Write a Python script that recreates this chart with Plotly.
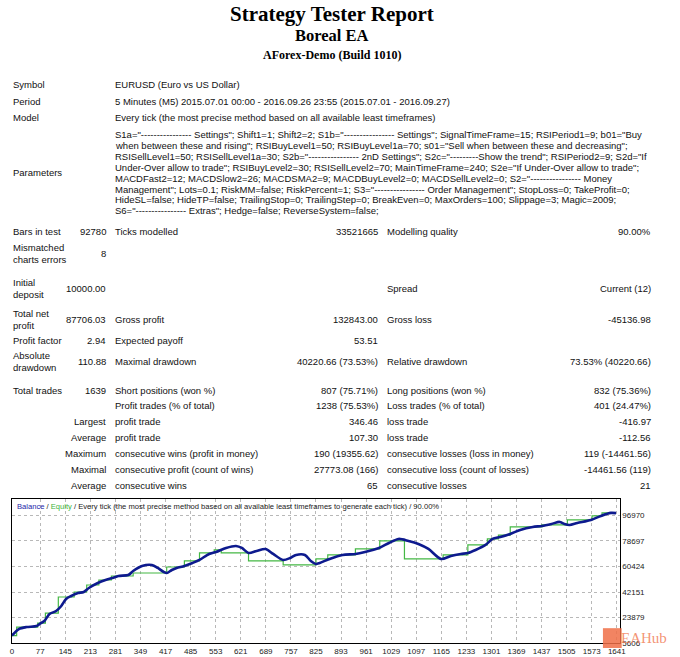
import plotly.graph_objects as go

W, H = 680, 657

# ---- header info ----
title_lines = ["Strategy Tester Report", "Boreal EA", "AForex-Demo (Build 1010)"]
info_labels = ["Symbol", "Period", "Model", "Parameters"]
info_values = [
    "EURUSD (Euro vs US Dollar)",
    "5 Minutes (M5) 2015.07.01 00:00 - 2016.09.26 23:55 (2015.07.01 - 2016.09.27)",
    "Every tick (the most precise method based on all available least timeframes)",
]
param_lines = [
    'S1a="---------------- Settings"; Shift1=1; Shift2=2; S1b="---------------- Settings"; SignalTimeFrame=15; RSIPeriod1=9; b01="Buy',
    'when between these and rising"; RSIBuyLevel1=50; RSIBuyLevel1a=70; s01="Sell when between these and decreasing";',
    'RSISellLevel1=50; RSISellLevel1a=30; S2b="---------------- 2nD Settings"; S2c="---------Show the trend"; RSIPeriod2=9; S2d="If',
    'Under-Over allow to trade"; RSIBuyLevel2=30; RSISellLevel2=70; MainTimeFrame=240; S2e="If Under-Over allow to trade";',
    'MACDFast2=12; MACDSlow2=26; MACDSMA2=9; MACDBuyLevel2=0; MACDSellLevel2=0; S2="---------------- Money',
    'Management"; Lots=0.1; RiskMM=false; RiskPercent=1; S3="---------------- Order Management"; StopLoss=0; TakeProfit=0;',
    'HideSL=false; HideTP=false; TrailingStop=0; TrailingStep=0; BreakEven=0; MaxOrders=100; Slippage=3; Magic=2009;',
    'S6="---------------- Extras"; Hedge=false; ReverseSystem=false;',
]

# ---- results table (columns) ----
c1 = ["Bars in test", "Mismatched<br>charts errors", "Initial<br>deposit", "Total net<br>profit", "Profit factor",
      "Absolute<br>drawdown", "Total trades", "", "Largest", "Average", "Maximum", "Maximal", "Average"]
c2 = ["92780", "8", "10000.00", "87706.03", "2.94", "110.88", "1639", "", "", "", "", "", ""]
c3 = ["Ticks modelled", "", "", "Gross profit", "Expected payoff", "Maximal drawdown", "Short positions (won %)",
      "Profit trades (% of total)", "profit trade", "profit trade", "consecutive wins (profit in money)",
      "consecutive profit (count of wins)", "consecutive wins"]
c4 = ["33521665", "", "", "132843.00", "53.51", "40220.66 (73.53%)", "807 (75.71%)", "1238 (75.53%)",
      "346.46", "107.30", "190 (19355.62)", "27773.08 (166)", "65"]
c5 = ["Modelling quality", "", "Spread", "Gross loss", "", "Relative drawdown", "Long positions (won %)",
      "Loss trades (% of total)", "loss trade", "loss trade", "consecutive losses (loss in money)",
      "consecutive loss (count of losses)", "consecutive losses"]
c6 = ["90.00%", "", "Current (12)", "-45136.98", "", "73.53% (40220.66)", "832 (75.36%)", "401 (24.47%)",
      "-416.97", "-112.56", "119 (-14461.56)", "-14461.56 (119)", "21"]

# ---- balance / equity curves (trade number vs money) ----
balance_x = [0, 19, 40, 67, 75, 88, 102, 120, 134, 147, 161, 179, 195, 209, 233, 254, 273, 289, 316, 329,
             353, 380, 396, 412, 420, 434, 447, 468, 490, 509, 535, 554, 581, 608, 624, 642, 664, 688, 709,
             736, 755, 771, 795, 811, 825, 835, 862, 897, 932, 958, 996, 1023, 1049, 1076, 1103, 1130, 1164,
             1191, 1218, 1237, 1258, 1285, 1304, 1325, 1352, 1379, 1413, 1438, 1464, 1486, 1499, 1513, 1534,
             1571, 1598, 1625, 1639]
balance_y = [11000, 15638, 17072, 17788, 19221, 21371, 26387, 28537, 32120, 37136, 39286, 41436, 42153,
             45019, 48602, 50752, 52185, 53618, 54335, 57201, 60784, 61501, 59351, 56485, 55768, 57918,
             59351, 60784, 62934, 65084, 69383, 70817, 73683, 75116, 73683, 70100, 71533, 72966, 69383,
             65084, 66517, 68667, 68667, 64367, 62217, 62934, 65800, 68667, 69383, 70817, 73683, 77266,
             80132, 78699, 76549, 72966, 65800, 67950, 69383, 70100, 72250, 75833, 80132, 81566, 83716,
             86582, 88732, 89449, 90882, 92315, 90882, 90165, 91598, 93748, 96614, 98764, 98600]

equity_x = [0, 13, 70, 91, 126, 169, 203, 236, 270, 329, 420, 468, 509, 549, 568, 642, 736, 825, 857, 932,
            998, 1065, 1170, 1237, 1290, 1320, 1352, 1438, 1507, 1574, 1601, 1639]
equity_y = [11000, 17072, 19938, 27104, 38570, 42153, 47169, 50752, 53618, 55768, 60068, 64367, 70100,
            72250, 70100, 64367, 61501, 65800, 68667, 72966, 78699, 65800, 68667, 75833, 80132, 82800,
            88732, 90165, 93748, 96614, 98764, 98764]

x_ticks = [0, 77, 145, 213, 281, 349, 417, 485, 553, 621, 689, 757, 825, 893, 961, 1029, 1097, 1165,
           1233, 1301, 1369, 1437, 1505, 1573, 1641]
y_ticks = [5606, 23879, 42151, 60424, 78697, 96970]

BODY = "Liberation Sans"
SERIF = "Liberation Serif"


def px(x):
    return x / W


def py(y):
    return 1 - y / H


fig = go.Figure()

fig.add_trace(go.Scatter(x=equity_x, y=equity_y, mode="lines", line=dict(color="#44b844", width=1.2, shape="hv"),
                         name="Equity", hoverinfo="skip"))
fig.add_trace(go.Scatter(x=balance_x, y=balance_y, mode="lines",
                         line=dict(color="#0d1a8e", width=2.6, shape="spline", smoothing=0.8),
                         name="Balance", hoverinfo="skip"))

ann = []


def text(x, y, s, size=9.5, anchor="left", family=BODY, bold=False, color="#111111"):
    if bold:
        s = "<b>" + s + "</b>"
    ann.append(dict(x=px(x), y=py(y), xref="paper", yref="paper", text=s, showarrow=False,
                    xanchor=anchor, yanchor="middle", align=anchor if anchor != "center" else "center",
                    font=dict(family=family, size=size, color=color)))


# titles
text(334, 14, title_lines[0], size=21, anchor="center", family=SERIF, bold=True, color="#000")
text(334, 36, title_lines[1], size=16.5, anchor="center", family=SERIF, bold=True, color="#000")
text(334, 55, title_lines[2], size=12, anchor="center", family=SERIF, bold=True, color="#000")

# info block
for lab, yy in zip(info_labels, [85, 102, 118, 174]):
    text(9, yy, lab)
for val, yy in zip(info_values, [85, 102, 118]):
    text(112, yy, val)
for i, line in enumerate(param_lines):
    text(112, 136 + i * 10.9, line)

# results table
row_y = [233, 255, 291, 322, 343, 364, 393, 409, 425, 441, 457, 473, 489]
for i, yy in enumerate(row_y):
    if c1[i]:
        if i >= 8:
            text(107, yy, c1[i], anchor="right")
        else:
            text(9, yy, c1[i])
    if c2[i]:
        text(107, yy, c2[i], anchor="right")
    if c3[i]:
        text(112, yy, c3[i])
    if c4[i]:
        text(383, yy, c4[i], anchor="right")
    if c5[i]:
        text(388, yy, c5[i])
    if c6[i]:
        text(660, yy, c6[i], anchor="right")

# chart caption
text(13, 510, '<span style="color:#1c1ca8">Balance</span> / <span style="color:#3cb43c">Equity</span>'
              ' / Every tick (the most precise method based on all available least timeframes to generate each tick)'
              ' / 90.00%', size=7.6, color="#222222")

# watermark
text(651, 643, "EAHub", size=15, anchor="center", family=SERIF, color="rgba(240,120,80,0.8)")

fig.add_shape(type="rect", xref="paper", yref="paper", x0=px(609), x1=px(628), y0=py(653), y1=py(633),
              fillcolor="rgba(240,110,70,0.85)", line=dict(width=0))

fig.update_layout(
    autosize=True,
    margin=dict(l=0, r=0, t=0, b=0),
    paper_bgcolor="white",
    plot_bgcolor="white",
    showlegend=False,
    annotations=ann,
    xaxis=dict(domain=[px(10), px(626)], range=[0, 1649], tickvals=x_ticks,
               showgrid=True, gridcolor="#b8b8b8", griddash="dot", gridwidth=1,
               showline=True, linecolor="#000", linewidth=1, mirror=True, zeroline=False,
               ticks="", tickfont=dict(family=BODY, size=8, color="#222")),
    yaxis=dict(domain=[py(648), py(503)], range=[5606, 108600], tickvals=y_ticks, side="right",
               tickformat="d",
               showgrid=True, gridcolor="#b8b8b8", griddash="dot", gridwidth=1,
               showline=True, linecolor="#000", linewidth=1, mirror=True, zeroline=False,
               ticks="", tickfont=dict(family=BODY, size=8, color="#222")),
)

page_js = """
document.documentElement.style.margin = '0';
document.body.style.margin = '0';
document.body.style.overflow = 'hidden';
Plotly.Plots.resize(document.getElementById('{plot_id}'));
"""
fig.write_html("out.html", config={"displayModeBar": False, "responsive": True},
               default_width="100%", default_height="100vh", post_script=page_js)
